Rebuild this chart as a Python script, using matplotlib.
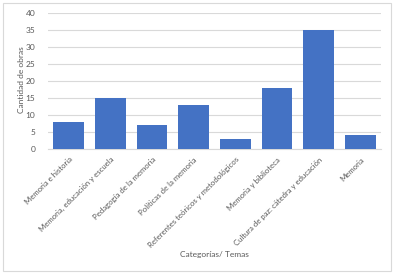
import matplotlib
matplotlib.use("Agg")
import matplotlib.pyplot as plt
from matplotlib.patches import Rectangle

categorias = [
    "Memoria e historia",
    "Memoria, educación y escuela",
    "Pedagogía de la memoria",
    "Políticas de la memoria",
    "Referentes teóricos y metodológicos",
    "Memoria y biblioteca",
    "Cultura de paz: cátedra y educación",
    "Memoria",
]
obras = [8, 15, 7, 13, 3, 18, 35, 4]
yticks = [0, 5, 10, 15, 20, 25, 30, 35, 40]

plt.rcParams['font.family'] = ['Lato', 'DejaVu Sans']
gris = '#595959'

fig = plt.figure(figsize=(4.12, 2.75), dpi=100)
# marco del gráfico
fig.patches.append(Rectangle((3 / 412, 4 / 275), 388 / 412, 268 / 275,
                             transform=fig.transFigure, fill=False,
                             edgecolor='#d9d9d9', linewidth=0.8))

ax = fig.add_axes([48 / 412, 1 - 149 / 275, 333 / 412, 136 / 275])
x = range(len(categorias))
ax.bar(x, obras, width=0.74, color='#4472C4', zorder=3)
ax.set_xlim(-0.5, len(categorias) - 0.5)
ax.set_ylim(0, 40)
ax.set_yticks(yticks)
ax.yaxis.grid(True, color='#d9d9d9', linewidth=0.8, zorder=0)
for s in ['top', 'right', 'left']:
    ax.spines[s].set_visible(False)
ax.spines['bottom'].set_color('#d9d9d9')
ax.tick_params(axis='both', length=0, colors=gris, labelsize=6)
ax.set_xticks(list(x))
ax.set_xticklabels(categorias, rotation=45, ha='right', rotation_mode='anchor',
                   fontsize=5.6)
ax.tick_params(axis='x', pad=5)
ax.tick_params(axis='y', pad=9)
fig.text(22 / 412, 1 - 80 / 275, 'Cantidad de obras', fontsize=6,
         color=gris, ha='center', va='center', rotation=90)
fig.text(214 / 412, 1 - 255 / 275, 'Categorías/ Temas', fontsize=6,
         color=gris, ha='center', va='center')

fig.savefig('out.png', dpi=100)
